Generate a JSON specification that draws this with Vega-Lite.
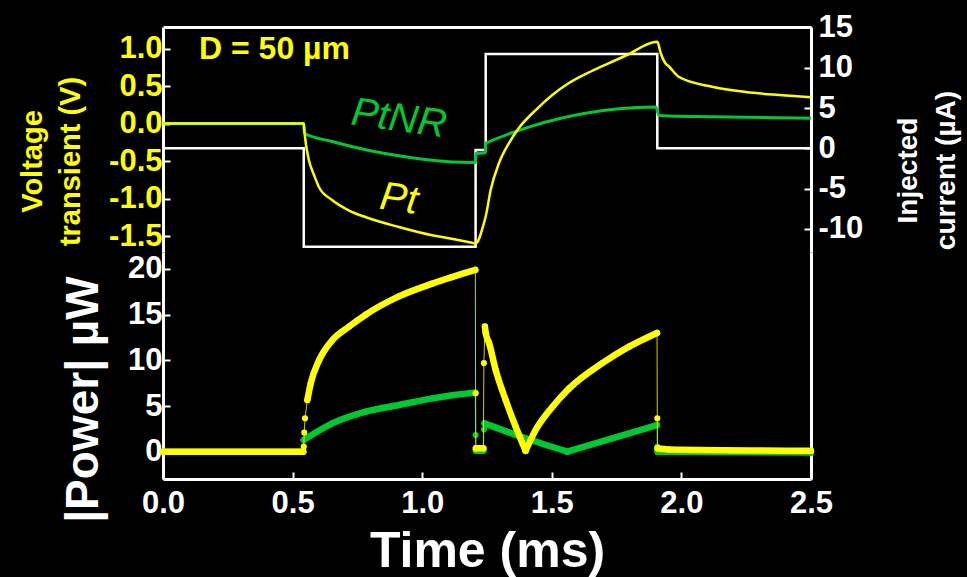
{
  "$schema": "https://vega.github.io/schema/vega-lite/v6.json",
  "background": "#000000",
  "padding": {"left": 18, "top": 11, "right": 16, "bottom": 10},
  "spacing": 0,
  "bounds": "flush",
  "config": {
    "view": {"stroke": null},
    "font": "Liberation Sans",
    "axis": {
      "grid": false,
      "domainColor": "#ffffff",
      "domainWidth": 3,
      "tickColor": "#ffffff",
      "tickWidth": 2,
      "tickSize": -7,
      "labelFont": "Liberation Sans",
      "labelFontWeight": "bold",
      "labelFontSize": 31,
      "labelColor": "#ffffff",
      "labelFlush": false,
      "labelOverlap": false,
      "titleFont": "Liberation Sans",
      "titleFontWeight": "bold",
      "titleColor": "#ffffff"
    }
  },
  "datasets": {
    "current": [
      {"t": 0, "i": 0},
      {"t": 0.543, "i": -12.2},
      {"t": 1.206, "i": -0.2},
      {"t": 1.245, "i": 11.7},
      {"t": 1.907, "i": 0},
      {"t": 2.5, "i": 0}
    ],
    "voltage": [
      {"series": "Pt", "t": 0, "v": 0},
      {"series": "Pt", "t": 0.543, "v": 0},
      {"series": "Pt", "t": 0.545, "v": -0.08},
      {"series": "Pt", "t": 0.552, "v": -0.29},
      {"series": "Pt", "t": 0.563, "v": -0.49},
      {"series": "Pt", "t": 0.583, "v": -0.69},
      {"series": "Pt", "t": 0.602, "v": -0.85},
      {"series": "Pt", "t": 0.652, "v": -1.02},
      {"series": "Pt", "t": 0.718, "v": -1.16},
      {"series": "Pt", "t": 0.783, "v": -1.25},
      {"series": "Pt", "t": 0.910, "v": -1.38},
      {"series": "Pt", "t": 1.038, "v": -1.49},
      {"series": "Pt", "t": 1.103, "v": -1.53},
      {"series": "Pt", "t": 1.192, "v": -1.59},
      {"series": "Pt", "t": 1.206, "v": -1.60},
      {"series": "Pt", "t": 1.238, "v": -1.33},
      {"series": "Pt", "t": 1.245, "v": -1.24},
      {"series": "Pt", "t": 1.264, "v": -0.89},
      {"series": "Pt", "t": 1.296, "v": -0.53},
      {"series": "Pt", "t": 1.335, "v": -0.26},
      {"series": "Pt", "t": 1.373, "v": -0.06},
      {"series": "Pt", "t": 1.438, "v": 0.18},
      {"series": "Pt", "t": 1.502, "v": 0.38},
      {"series": "Pt", "t": 1.566, "v": 0.54},
      {"series": "Pt", "t": 1.630, "v": 0.66},
      {"series": "Pt", "t": 1.695, "v": 0.765},
      {"series": "Pt", "t": 1.785, "v": 0.905},
      {"series": "Pt", "t": 1.907, "v": 1.09},
      {"series": "Pt", "t": 1.920, "v": 0.94},
      {"series": "Pt", "t": 1.939, "v": 0.80},
      {"series": "Pt", "t": 1.952, "v": 0.76},
      {"series": "Pt", "t": 1.991, "v": 0.62},
      {"series": "Pt", "t": 2.118, "v": 0.49},
      {"series": "Pt", "t": 2.248, "v": 0.42},
      {"series": "Pt", "t": 2.377, "v": 0.38},
      {"series": "Pt", "t": 2.5, "v": 0.35},
      {"series": "PtNR", "t": 0, "v": 0},
      {"series": "PtNR", "t": 0.543, "v": 0},
      {"series": "PtNR", "t": 0.545, "v": -0.13},
      {"series": "PtNR", "t": 0.653, "v": -0.24},
      {"series": "PtNR", "t": 0.782, "v": -0.35},
      {"series": "PtNR", "t": 0.910, "v": -0.43},
      {"series": "PtNR", "t": 1.038, "v": -0.49},
      {"series": "PtNR", "t": 1.181, "v": -0.52},
      {"series": "PtNR", "t": 1.206, "v": -0.52},
      {"series": "PtNR", "t": 1.207, "v": -0.40},
      {"series": "PtNR", "t": 1.244, "v": -0.39},
      {"series": "PtNR", "t": 1.245, "v": -0.26},
      {"series": "PtNR", "t": 1.901, "v": 0.22},
      {"series": "PtNR", "t": 1.913, "v": 0.11},
      {"series": "PtNR", "t": 1.952, "v": 0.10},
      {"series": "PtNR", "t": 2.118, "v": 0.09},
      {"series": "PtNR", "t": 2.5, "v": 0.07}
    ],
    "power": [
      {"series": "Pt", "phase": "rest1", "t": 0, "p": 0},
      {"series": "Pt", "phase": "rest1", "t": 0.541, "p": 0},
      {"series": "Pt", "phase": "switch", "t": 0.543, "p": 0.55},
      {"series": "Pt", "phase": "switch", "t": 0.545, "p": 2.1},
      {"series": "Pt", "phase": "switch", "t": 0.548, "p": 3.66},
      {"series": "Pt", "phase": "cathodic", "t": 0.557, "p": 5.66},
      {"series": "Pt", "phase": "cathodic", "t": 0.570, "p": 7.5},
      {"series": "Pt", "phase": "cathodic", "t": 0.602, "p": 10.0},
      {"series": "Pt", "phase": "cathodic", "t": 0.653, "p": 12.2},
      {"series": "Pt", "phase": "cathodic", "t": 0.718, "p": 13.7},
      {"series": "Pt", "phase": "cathodic", "t": 0.782, "p": 15.0},
      {"series": "Pt", "phase": "cathodic", "t": 0.910, "p": 17.0},
      {"series": "Pt", "phase": "cathodic", "t": 1.039, "p": 18.4},
      {"series": "Pt", "phase": "cathodic", "t": 1.205, "p": 19.9},
      {"series": "Pt", "phase": "switch", "t": 1.206, "p": 6.4},
      {"series": "Pt", "phase": "interphase", "t": 1.207, "p": 0.37},
      {"series": "Pt", "phase": "interphase", "t": 1.236, "p": 0.37},
      {"series": "Pt", "phase": "switch", "t": 1.238, "p": 9.7},
      {"series": "Pt", "phase": "anodic-fall", "t": 1.242, "p": 13.7},
      {"series": "Pt", "phase": "anodic-fall", "t": 1.245, "p": 13.0},
      {"series": "Pt", "phase": "anodic-fall", "t": 1.258, "p": 11.9},
      {"series": "Pt", "phase": "anodic-fall", "t": 1.284, "p": 8.9},
      {"series": "Pt", "phase": "anodic-fall", "t": 1.322, "p": 5.66},
      {"series": "Pt", "phase": "anodic-fall", "t": 1.361, "p": 2.7},
      {"series": "Pt", "phase": "anodic-fall", "t": 1.399, "p": 0.1},
      {"series": "Pt", "phase": "anodic-rise", "t": 1.399, "p": 0.1},
      {"series": "Pt", "phase": "anodic-rise", "t": 1.438, "p": 2.4},
      {"series": "Pt", "phase": "anodic-rise", "t": 1.502, "p": 4.9},
      {"series": "Pt", "phase": "anodic-rise", "t": 1.566, "p": 6.9},
      {"series": "Pt", "phase": "anodic-rise", "t": 1.695, "p": 9.7},
      {"series": "Pt", "phase": "anodic-rise", "t": 1.798, "p": 11.5},
      {"series": "Pt", "phase": "anodic-rise", "t": 1.906, "p": 13.0},
      {"series": "Pt", "phase": "switch", "t": 1.907, "p": 3.66},
      {"series": "Pt", "phase": "rest2", "t": 1.908, "p": 0.37},
      {"series": "Pt", "phase": "rest2", "t": 1.95, "p": 0.25},
      {"series": "Pt", "phase": "rest2", "t": 2.5, "p": 0.1},
      {"series": "PtNR", "phase": "rest1", "t": 0, "p": 0},
      {"series": "PtNR", "phase": "rest1", "t": 0.541, "p": 0},
      {"series": "PtNR", "phase": "cathodic", "t": 0.543, "p": 1.28},
      {"series": "PtNR", "phase": "cathodic", "t": 0.653, "p": 3.1},
      {"series": "PtNR", "phase": "cathodic", "t": 0.782, "p": 4.38},
      {"series": "PtNR", "phase": "cathodic", "t": 0.910, "p": 5.11},
      {"series": "PtNR", "phase": "cathodic", "t": 1.039, "p": 5.84},
      {"series": "PtNR", "phase": "cathodic", "t": 1.181, "p": 6.4},
      {"series": "PtNR", "phase": "cathodic", "t": 1.205, "p": 6.46},
      {"series": "PtNR", "phase": "switch", "t": 1.206, "p": 1.83},
      {"series": "PtNR", "phase": "interphase", "t": 1.207, "p": 0.1},
      {"series": "PtNR", "phase": "interphase", "t": 1.236, "p": 0.1},
      {"series": "PtNR", "phase": "switch", "t": 1.238, "p": 2.45},
      {"series": "PtNR", "phase": "anodic-fall", "t": 1.240, "p": 3.1},
      {"series": "PtNR", "phase": "anodic-fall", "t": 1.399, "p": 1.47},
      {"series": "PtNR", "phase": "anodic-fall", "t": 1.560, "p": 0},
      {"series": "PtNR", "phase": "anodic-rise", "t": 1.560, "p": 0},
      {"series": "PtNR", "phase": "anodic-rise", "t": 1.906, "p": 2.92},
      {"series": "PtNR", "phase": "switch", "t": 1.907, "p": 0.55},
      {"series": "PtNR", "phase": "rest2", "t": 1.908, "p": 0},
      {"series": "PtNR", "phase": "rest2", "t": 2.5, "p": -0.1}
    ]
  },
  "vconcat": [
    {
      "width": 648,
      "height": 225,
      "encoding": {
        "x": {
          "field": "t",
          "type": "quantitative",
          "scale": {"domain": [0, 2.5], "nice": false, "zero": false},
          "axis": {"orient": "top", "labels": false, "ticks": false, "title": null}
        }
      },
      "layer": [
        {
          "data": {"name": "current"},
          "mark": {"type": "line", "interpolate": "step-after", "color": "#ffffff", "strokeWidth": 2.5},
          "encoding": {
            "y": {
              "field": "i",
              "type": "quantitative",
              "scale": {"domain": [-12.86, 15.05], "nice": false, "zero": false},
              "axis": {
                "orient": "right",
                "values": [-10, -5, 0, 5, 10, 15],
                "labelExpr": "replace(datum.label, '\u2212', '-')",
                "labelPadding": 14,
                "title": ["Injected", "current (µA)"],
                "titleFontSize": 28,
                "titleAngle": -90,
                "titleLineHeight": 38,
                "titlePadding": 22,
                "titleY": 143
              }
            }
          }
        },
        {
          "encoding": {
            "y": {
              "field": "v",
              "type": "quantitative",
              "scale": {"domain": [-1.713, 1.287], "nice": false, "zero": false},
              "axis": {
                "orient": "left",
                "values": [-1.5, -1, -0.5, 0, 0.5, 1],
                "format": ".1f",
                "labelExpr": "replace(datum.label, '\u2212', '-')",
                "labelColor": "#ffff00",
                "labelPadding": 8,
                "title": ["Voltage", "transient (V)"],
                "titleColor": "#ffff00",
                "titleFontSize": 29,
                "titleLineHeight": 38,
                "titlePadding": 23,
                "titleY": 134
              }
            }
          },
          "layer": [
            {
              "data": {"name": "voltage"},
              "transform": [{"filter": "datum.series === 'PtNR'"}],
              "mark": {"type": "line", "color": "#00c832", "strokeWidth": 3, "interpolate": "monotone"}
            },
            {
              "data": {"name": "voltage"},
              "transform": [{"filter": "datum.series === 'Pt'"}],
              "mark": {"type": "line", "color": "#ffff00", "strokeWidth": 2.5, "interpolate": "monotone"}
            },
            {
              "data": {"values": [{"label": "D = 50 µm", "t": 0.139, "v": 0.86}]},
              "mark": {"type": "text", "align": "left", "baseline": "alphabetic", "fontSize": 32, "fontWeight": "bold", "color": "#ffff00"},
              "encoding": {"text": {"field": "label"}}
            },
            {
              "data": {"values": [{"label": "PtNR", "t": 0.91, "v": 0.06}]},
              "mark": {"type": "text", "align": "center", "baseline": "middle", "fontSize": 40, "fontStyle": "italic", "angle": 8, "color": "#00c832"},
              "encoding": {"text": {"field": "label"}}
            },
            {
              "data": {"values": [{"label": "Pt", "t": 0.91, "v": -1.01}]},
              "mark": {"type": "text", "align": "center", "baseline": "middle", "fontSize": 40, "fontStyle": "italic", "angle": 8, "color": "#ffff00"},
              "encoding": {"text": {"field": "label"}}
            }
          ]
        }
      ],
      "resolve": {"scale": {"y": "independent"}, "axis": {"y": "independent"}}
    },
    {
      "width": 648,
      "height": 227,
      "data": {"name": "power"},
      "encoding": {
        "x": {
          "field": "t",
          "type": "quantitative",
          "scale": {"domain": [0, 2.5], "nice": false, "zero": false},
          "axis": {
            "orient": "bottom",
            "values": [0, 0.5, 1, 1.5, 2, 2.5],
            "format": ".1f",
            "labelPadding": 16,
            "title": "Time (ms)",
            "titleFontSize": 50,
            "titlePadding": 8
          }
        }
      },
      "layer": [
        {
          "transform": [{"filter": "datum.series === 'PtNR'"}],
          "mark": {"type": "line", "color": "#00c832", "strokeWidth": 1, "opacity": 0.8},
          "encoding": {
            "y": {
              "field": "p",
              "type": "quantitative",
              "scale": {"domain": [-2.99, 21.86], "nice": false, "zero": false},
              "axis": {
                "orient": "left",
                "values": [0, 5, 10, 15, 20],
                "labelPadding": 8,
                "title": "|Power|  µW",
                "titleFontSize": 46,
                "titlePadding": 20,
                "titleY": 147
              }
            }
          }
        },
        {
          "transform": [{"filter": "datum.series === 'PtNR' && datum.phase !== 'switch'"}],
          "mark": {"type": "line", "color": "#00c832", "strokeWidth": 6.5, "strokeJoin": "round", "strokeCap": "round", "interpolate": "monotone"},
          "encoding": {
            "y": {"field": "p", "type": "quantitative", "axis": null},
            "detail": {"field": "phase"}
          }
        },
        {
          "transform": [{"filter": "datum.series === 'PtNR'"}],
          "mark": {"type": "point", "filled": true, "shape": "circle", "size": 38, "color": "#00c832", "opacity": 1},
          "encoding": {"y": {"field": "p", "type": "quantitative", "axis": null}}
        },
        {
          "transform": [{"filter": "datum.series === 'Pt'"}],
          "mark": {"type": "line", "color": "#ffff00", "strokeWidth": 1, "opacity": 0.8},
          "encoding": {
            "y": {
              "field": "p",
              "type": "quantitative",
              "axis": {"orient": "right", "labels": false, "ticks": false, "title": null}
            }
          }
        },
        {
          "transform": [{"filter": "datum.series === 'Pt' && datum.phase !== 'switch'"}],
          "mark": {"type": "line", "color": "#ffff00", "strokeWidth": 6.5, "strokeJoin": "round", "strokeCap": "round", "interpolate": "monotone"},
          "encoding": {
            "y": {"field": "p", "type": "quantitative", "axis": null},
            "detail": {"field": "phase"}
          }
        },
        {
          "transform": [{"filter": "datum.series === 'Pt'"}],
          "mark": {"type": "point", "filled": true, "shape": "circle", "size": 38, "color": "#ffff00", "opacity": 1},
          "encoding": {"y": {"field": "p", "type": "quantitative", "axis": null}}
        }
      ],
      "resolve": {"axis": {"y": "independent"}}
    }
  ]
}
